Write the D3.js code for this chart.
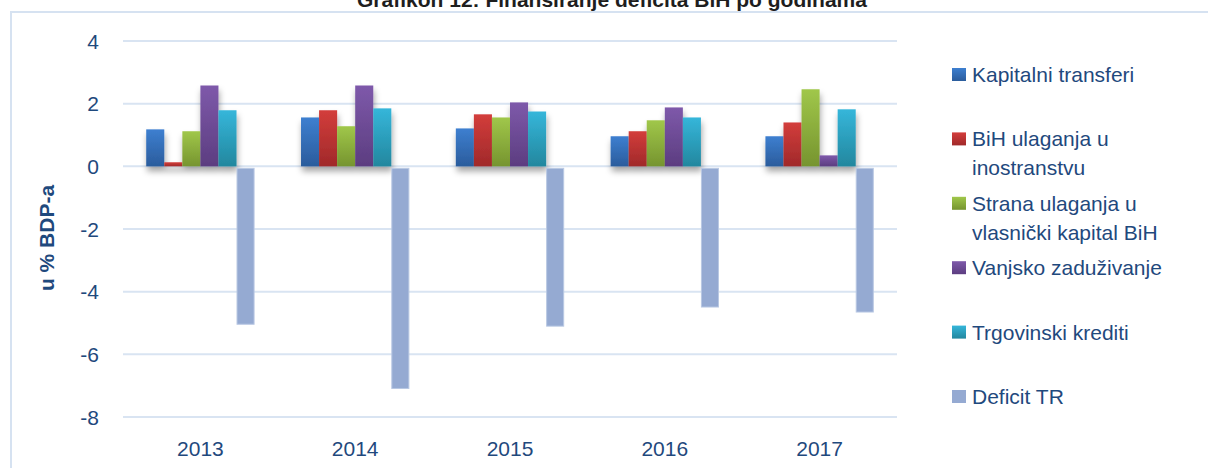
<!DOCTYPE html>
<html>
<head>
<meta charset="utf-8">
<script src="https://cdn.jsdelivr.net/npm/d3@7"></script>
<style>
  body { margin: 0; background: #fff; }
  svg { display: block; font-family: "Liberation Sans", Arial, sans-serif; }
</style>
</head>
<body>
<div id="chart"></div>
<script>
// data
const years = ["2013", "2014", "2015", "2016", "2017"];
const seriesNames = [
    "Kapitalni transferi",
    "BiH ulaganja u inostranstvu",
    "Strana ulaganja u vlasnički kapital BiH",
    "Vanjsko zaduživanje",
    "Trgovinski krediti",
    "Deficit TR"
];
const legendLines = [
    ["Kapitalni transferi"],
    ["BiH ulaganja u", "inostranstvu"],
    ["Strana ulaganja u", "vlasnički kapital BiH"],
    ["Vanjsko zaduživanje"],
    ["Trgovinski krediti"],
    ["Deficit TR"]
];
const kapitalni = [1.18, 1.56, 1.21, 0.96, 0.96];
const bihUlaganja = [0.13, 1.79, 1.66, 1.12, 1.40];
const stranaUlaganja = [1.12, 1.28, 1.56, 1.47, 2.46];
const vanjsko = [2.58, 2.58, 2.04, 1.88, 0.35];
const trgovinski = [1.79, 1.85, 1.75, 1.56, 1.82];
const deficit = [-5.04, -7.09, -5.10, -4.49, -4.65];
const yTicks = [-8, -6, -4, -2, 0, 2, 4];

const allSeries = [kapitalni, bihUlaganja, stranaUlaganja, vanjsko, trgovinski, deficit];
// gradient top / bottom colours per series
const colorsTop = ["#3d7fd0", "#d33d3b", "#a0c74a", "#7e59aa", "#35b6da", "#95aad2"];
const colorsBottom = ["#2b5c9c", "#a0292a", "#76942f", "#5c3d80", "#23879e", "#95aad2"];

const width = 1208, height = 468;
const textColor = "#1f497d";

const svg = d3.select("#chart").append("svg")
    .attr("width", width)
    .attr("height", height);

const defs = svg.append("defs");
seriesNames.forEach((s, i) => {
    const g = defs.append("linearGradient")
        .attr("id", "grad" + i)
        .attr("x1", 0).attr("y1", 0).attr("x2", 0).attr("y2", 1);
    g.append("stop").attr("offset", "0%").attr("stop-color", colorsTop[i]);
    g.append("stop").attr("offset", "100%").attr("stop-color", colorsBottom[i]);
});
const shadow = defs.append("filter").attr("id", "shadow")
    .attr("x", "-20%").attr("y", "-20%").attr("width", "140%").attr("height", "160%");
shadow.append("feDropShadow")
    .attr("dx", 1).attr("dy", 5).attr("stdDeviation", 3)
    .attr("flood-color", "#000").attr("flood-opacity", 0.35);

// outer frame
svg.append("rect")
    .attr("x", 11).attr("y", 12)
    .attr("width", width + 20).attr("height", height + 20)
    .attr("fill", "none")
    .attr("stroke", "#d6e2f1")
    .attr("stroke-width", 2);

// title (cut off at the top in the reference)
svg.append("text")
    .attr("x", 612).attr("y", 7)
    .attr("text-anchor", "middle")
    .attr("font-weight", "bold")
    .attr("font-size", 21)
    .attr("fill", "#1e1e1e")
    .text("Grafikon 12: Finansiranje deficita BiH po godinama");

const x0 = d3.scaleBand()
    .domain(years)
    .range([123, 897])
    .paddingInner(0.3)
    .paddingOuter(0.15);

const x1 = d3.scaleBand()
    .domain(d3.range(seriesNames.length))
    .range([0, x0.bandwidth()]);

const y = d3.scaleLinear()
    .domain([-8, 4])
    .range([417, 41]);

// gridlines
svg.append("g")
    .selectAll("line")
    .data(yTicks)
    .join("line")
    .attr("x1", 123).attr("x2", 897)
    .attr("y1", d => y(d)).attr("y2", d => y(d))
    .attr("stroke", "#d9e4f2")
    .attr("stroke-width", 2);

// y tick labels
svg.append("g")
    .selectAll("text")
    .data(yTicks)
    .join("text")
    .attr("x", 99)
    .attr("y", d => y(d))
    .attr("dy", "0.36em")
    .attr("text-anchor", "end")
    .attr("font-size", 21)
    .attr("fill", textColor)
    .text(d => d);

// y axis title
svg.append("text")
    .attr("transform", "translate(54,238) rotate(-90)")
    .attr("text-anchor", "middle")
    .attr("font-weight", "bold")
    .attr("font-size", 21)
    .attr("fill", textColor)
    .text("u % BDP-a");

// x labels
svg.append("g")
    .selectAll("text")
    .data(years)
    .join("text")
    .attr("x", d => x0(d) + x0.bandwidth() / 2)
    .attr("y", 456)
    .attr("text-anchor", "middle")
    .attr("font-size", 21)
    .attr("fill", textColor)
    .text(d => d);

// bars
const rows = [];
years.forEach((yr, j) => {
    allSeries.forEach((s, i) => rows.push({ year: yr, i: i, value: s[j] }));
});

svg.append("g")
    .attr("filter", "url(#shadow)")
    .selectAll("rect")
    .data(rows.filter(d => d.value >= 0))
    .join("rect")
    .attr("x", d => x0(d.year) + x1(d.i))
    .attr("width", x1.bandwidth())
    .attr("y", d => y(d.value))
    .attr("height", d => y(0) - y(d.value))
    .attr("fill", d => "url(#grad" + d.i + ")");

svg.append("g")
    .selectAll("rect")
    .data(rows.filter(d => d.value < 0))
    .join("rect")
    .attr("x", d => x0(d.year) + x1(d.i) + 0.5)
    .attr("width", x1.bandwidth() - 1)
    .attr("y", y(0) + 2)
    .attr("height", d => y(d.value) - y(0) - 2)
    .attr("fill", colorsTop[5])
    .attr("stroke", "#b9c8e3")
    .attr("stroke-width", 1);

// legend
const legend = svg.append("g")
    .selectAll("g")
    .data(legendLines)
    .join("g")
    .attr("transform", (d, i) => `translate(952,${82 + i * 64.4})`);

legend.append("rect")
    .attr("x", 0).attr("y", -14)
    .attr("width", 14).attr("height", 13)
    .attr("fill", (d, i) => "url(#grad" + i + ")");

legend.append("text")
    .attr("x", 20)
    .attr("font-size", 21)
    .attr("fill", textColor)
    .selectAll("tspan")
    .data(d => d)
    .join("tspan")
    .attr("x", 20)
    .attr("y", (d, k) => k * 29)
    .text(d => d);
</script>
</body>
</html>
